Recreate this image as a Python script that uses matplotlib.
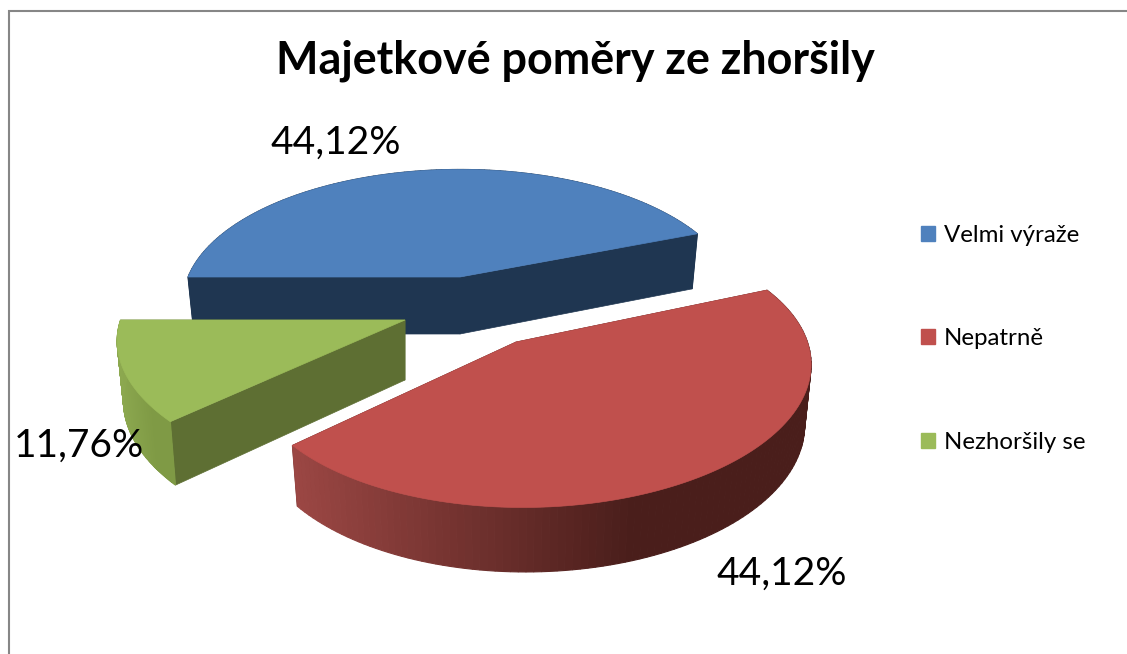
import numpy as np
import matplotlib
matplotlib.use('Agg')
import matplotlib.pyplot as plt
from matplotlib.patches import Patch

plt.rcParams['font.family'] = ['Lato', 'DejaVu Sans']

title = 'Majetkové poměry ze zhoršily'
categories = ['Velmi výraže', 'Nepatrně', 'Nezhoršily se']
shares = [44.12, 44.12, 11.76]

colors = ['#4F81BD', '#C0504D', '#9BBB59']
cut_colors = ['#1F3651', '#4A1E1B', '#5E6F33']
# rim shading, dark end then light end
rim_colors = [('#1F3651', '#1F3651'), ('#4A1E1B', '#9C4744'), ('#7F9A45', '#8CA84F')]

# apex x, apex y, width, height, shear x, shear y, sideways tilt, thickness (pixels)
slice_geom = [(460, 277, 272, 128, 0, 0, 0.0, 57),
              (516, 342, 275, 134, 0, 5, -0.05, 58),
              (405, 320, 293, 135, -10, 0, -0.03, 60)]
label_pos = [(336, 143), (782, 574), (79, 446)]
persp = 0.19
bottom_shrink = 0.978

# the pie runs clockwise from the left
edges = 180 - 360 * np.cumsum([0] + shares) / sum(shares)


def project(gx, X, Y):
    cx, cy, a, b, s, t, m, d = gx
    w = 1 + persp * Y + m * X
    return cx + (a * X + s * Y) / w, cy - (b * Y + t * X) / w, d / np.sqrt(w)


def mix(c1, c2, t):
    return np.array(matplotlib.colors.to_rgb(c1)) * (1 - t) + np.array(matplotlib.colors.to_rgb(c2)) * t


fig = plt.figure(figsize=(11.27, 6.54), dpi=100)
ax = fig.add_axes([0, 0, 1, 1])
ax.set_xlim(0, 1127)
ax.set_ylim(654, 0)
ax.axis('off')

ax.plot([8.5, 8.5, 1127], [653, 10.5, 10.5], color='#868686', lw=1.5, solid_joinstyle='miter')

for i in [0, 2, 1]:
    gx = slice_geom[i]
    theta = np.radians(np.linspace(edges[i], edges[i + 1], 120))
    x, y, d = project(gx, np.cos(theta), np.sin(theta))
    ax0, ay0, d0 = project(gx, 0.0, 0.0)
    # the underside sits a little further away, so pull it in towards the apex
    xb = ax0 + (x - ax0) * bottom_shrink

    # flat cut faces
    for k in [0, -1]:
        ax.fill([ax0, x[k], xb[k], ax0], [ay0, y[k], y[k] + d[k], ay0 + d0],
                color=cut_colors[i], lw=0.5, zorder=i * 3 + 1)
    # curved rim, reaches the dark colour about two thirds of the way across
    for k in range(len(x) - 1):
        t = np.clip(1 - (x[k] - x.min()) / (0.66 * (x.max() - x.min())), 0, 1)
        ax.fill([x[k], x[k + 1], xb[k + 1], xb[k]],
                [y[k], y[k + 1], y[k + 1] + d[k + 1], y[k] + d[k]],
                color=mix(rim_colors[i][0], rim_colors[i][1], t), lw=0.8, zorder=i * 3 + 2)
    # top
    ax.fill(np.r_[ax0, x], np.r_[ay0, y], color=colors[i], lw=0.5, zorder=i * 3 + 3)

for i in range(3):
    ax.text(label_pos[i][0], label_pos[i][1], f'{shares[i]:.2f}'.replace('.', ',') + '%',
            fontsize=28, ha='center', va='center', color='black', zorder=20)

ax.text(575, 61, title, fontsize=32.3, fontweight='bold', ha='center', va='center', color='black')

handles = [Patch(color=c, label=n) for c, n in zip(colors, categories)]
ax.legend(handles=handles, loc='upper left', bbox_to_anchor=(0.817, 0.656), frameon=False,
          fontsize=17.3, labelspacing=3.43, handlelength=0.58, handleheight=0.58,
          handletextpad=0.375, borderpad=0, borderaxespad=0)

fig.savefig('out.png', dpi=100)
